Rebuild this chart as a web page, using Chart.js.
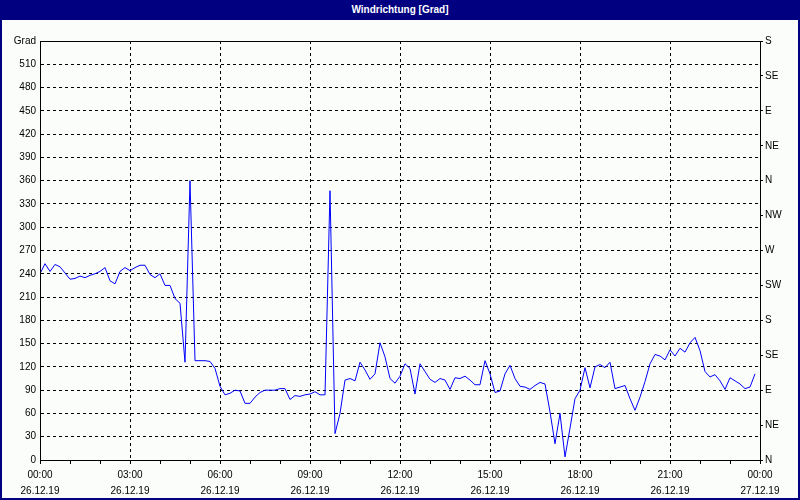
<!DOCTYPE html>
<html>
<head>
<meta charset="utf-8">
<script src="https://cdn.jsdelivr.net/npm/chart.js@4/dist/chart.umd.min.js"></script>
<style>
  body { margin: 0; background: #fafdfa; }
  #wrap { position: relative; width: 800px; height: 500px; overflow: hidden; }
  #title {
    position: absolute; left: 0; top: 0; width: 800px; height: 20px;
    background: #000080; color: #fff; font: bold 10px "Liberation Sans", Arial, sans-serif;
    text-align: center; line-height: 20px;
  }
  #frame {
    position: absolute; left: 0; top: 0; width: 800px; height: 500px;
    box-sizing: border-box; border: 2px solid #000080; pointer-events: none;
  }
  canvas { position: absolute; left: 0; top: 0; }
</style>
</head>
<body>
<div id="wrap">
  <canvas id="windChart" width="800" height="500"></canvas>
  <div id="title">Windrichtung [Grad]</div>
  <div id="frame"></div>
</div>
<script>
// wind direction every 10 minutes, 26.12.19 00:00 .. 23:50
const stepMinutes = 10;
const direction = [
  240, 253, 243, 252, 249, 241, 233, 234, 237, 235, 238, 240,   // 00:00 - 01:50
  243, 248, 231, 227, 243, 248, 244, 248, 251, 251, 239, 235,   // 02:00 - 03:50
  240, 225, 225, 208, 202, 126, 360, 128, 128, 128, 127, 118,   // 04:00 - 05:50
  95, 84, 86, 90, 89, 73, 73, 81, 87, 90, 90, 90,               // 06:00 - 07:50
  92, 92, 78, 83, 82, 84, 85, 88, 84, 84, 347, 34,              // 08:00 - 09:50
  60, 103, 105, 102, 126, 116, 104, 111, 151, 133, 105, 99,     // 10:00 - 11:50
  108, 124, 118, 85, 124, 114, 104, 100, 105, 103, 91, 106,     // 12:00 - 13:50
  105, 108, 103, 97, 97, 128, 111, 87, 89, 111, 122, 105,       // 14:00 - 15:50
  95, 94, 91, 96, 100, 98, 62, 21, 60, 4, 41, 79,               // 16:00 - 17:50
  90, 119, 93, 120, 123, 119, 126, 92, 94, 96, 79, 64,          // 18:00 - 19:50
  81, 101, 124, 136, 134, 129, 142, 134, 144, 139, 151, 158,    // 20:00 - 21:50
  141, 114, 107, 110, 102, 91, 106, 102, 98, 92, 94, 111        // 22:00 - 23:50
];

const timeLabels = ['00:00', '03:00', '06:00', '09:00', '12:00', '15:00', '18:00', '21:00', '00:00'];
const dateLabels = ['26.12.19', '26.12.19', '26.12.19', '26.12.19', '26.12.19', '26.12.19', '26.12.19', '26.12.19', '27.12.19'];
const compassValues = [0, 45, 90, 135, 180, 225, 270, 315, 360, 405, 450, 495, 540];
const compassLabels = ['N', 'NE', 'E', 'SE', 'S', 'SW', 'W', 'NW', 'N', 'NE', 'E', 'SE', 'S'];
const yMax = 540;
const dayMinutes = 1440;

const points = direction.map((v, i) => ({ x: i * stepMinutes, y: v }));

const font = { family: '"Liberation Sans", Arial, sans-serif', size: 10 };

const framePlugin = {
  id: 'frame',
  afterDraw(chart) {
    const a = chart.chartArea;
    const c = chart.ctx;
    c.save();
    c.strokeStyle = '#000';
    c.lineWidth = 1;
    c.setLineDash([]);
    c.strokeRect(Math.round(a.left) + 0.5, Math.round(a.top) + 0.5,
      Math.round(a.right - a.left), Math.round(a.bottom - a.top));
    c.restore();
  }
};

new Chart(document.getElementById('windChart'), {
  type: 'line',
  data: {
    datasets: [{
      data: points,
      borderColor: '#0000ff',
      borderWidth: 1,
      pointRadius: 0,
      tension: 0,
      fill: false
    }]
  },
  options: {
    responsive: false,
    animation: false,
    devicePixelRatio: 1,
    layout: { padding: { top: 41, left: 0, right: 0, bottom: 0 } },
    plugins: { legend: { display: false }, tooltip: { enabled: false } },
    scales: {
      x: {
        type: 'linear',
        min: 0,
        max: dayMinutes,
        afterFit: (s) => { s.height = 40; },
        ticks: {
          stepSize: 60,
          autoSkip: false,
          maxRotation: 0,
          padding: 3,
          color: '#000',
          font: { ...font, lineHeight: 1.6 },
          callback: (v) => {
            if (v % 180 !== 0) return '';
            const k = v / 180;
            return [timeLabels[k], dateLabels[k]];
          }
        },
        grid: {
          color: (ctx) => (ctx.tick && ctx.tick.value % 180 === 0 && ctx.tick.value > 0 && ctx.tick.value < dayMinutes) ? '#000' : 'rgba(0,0,0,0)',
          tickColor: '#000',
          tickLength: 4
        },
        border: { color: '#000', dash: [3, 3] }
      },
      y: {
        position: 'left',
        min: 0,
        max: yMax,
        afterFit: (s) => { s.width = 40; },
        ticks: {
          stepSize: 30,
          padding: 4,
          color: '#000',
          font: font,
          callback: (v) => v === yMax ? 'Grad' : v
        },
        grid: {
          color: (ctx) => (ctx.tick && ctx.tick.value > 0 && ctx.tick.value < yMax) ? '#000' : 'rgba(0,0,0,0)',
          drawTicks: false
        },
        border: { color: '#000', dash: [3, 3] }
      },
      y2: {
        position: 'right',
        min: 0,
        max: yMax,
        afterFit: (s) => { s.width = 40; },
        afterBuildTicks: (s) => { s.ticks = compassValues.map(v => ({ value: v })); },
        ticks: {
          padding: 2,
          color: '#000',
          font: font,
          callback: (v) => compassLabels[compassValues.indexOf(v)]
        },
        grid: { drawOnChartArea: false, tickColor: '#000', tickLength: 3 },
        border: { color: '#000' }
      }
    }
  },
  plugins: [framePlugin]
});
</script>
</body>
</html>
